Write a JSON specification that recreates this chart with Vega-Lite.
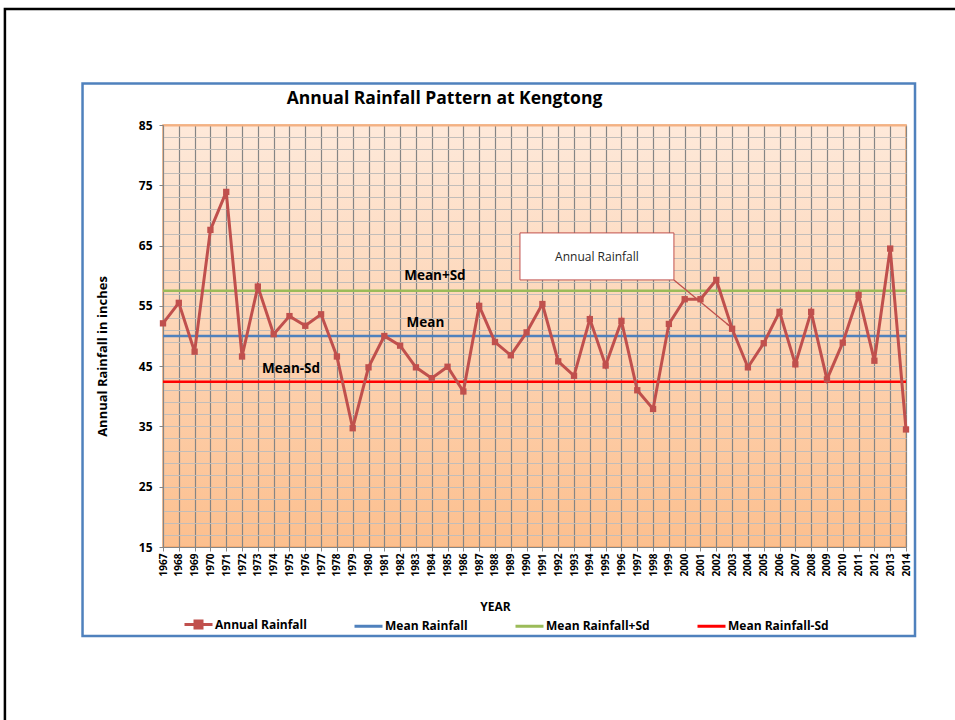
{
  "$schema": "https://vega.github.io/schema/vega-lite/v6.json",
  "width": 743,
  "height": 422,
  "autosize": {"type": "none"},
  "padding": {"left": 163, "top": 125, "right": 49, "bottom": 173},
  "background": "white",
  "title": {
    "text": "Annual Rainfall Pattern at Kengtong",
    "font": "Open Sans",
    "fontSize": 17.5,
    "fontWeight": "bold",
    "color": "black",
    "anchor": "middle",
    "frame": "group",
    "dx": -90,
    "baseline": "bottom",
    "offset": -118
  },
  "data": {"values": [{"note": "decoration"}]},
  "datasets": {
    "rain": [
      {"year": 1967, "rain": 52.1}, {"year": 1968, "rain": 55.5}, {"year": 1969, "rain": 47.4},
      {"year": 1970, "rain": 67.6}, {"year": 1971, "rain": 73.9}, {"year": 1972, "rain": 46.6},
      {"year": 1973, "rain": 58.2}, {"year": 1974, "rain": 50.3}, {"year": 1975, "rain": 53.3},
      {"year": 1976, "rain": 51.7}, {"year": 1977, "rain": 53.6}, {"year": 1978, "rain": 46.6},
      {"year": 1979, "rain": 34.7}, {"year": 1980, "rain": 44.8}, {"year": 1981, "rain": 50.0},
      {"year": 1982, "rain": 48.4}, {"year": 1983, "rain": 44.8}, {"year": 1984, "rain": 43.0},
      {"year": 1985, "rain": 44.9}, {"year": 1986, "rain": 40.8}, {"year": 1987, "rain": 55.0},
      {"year": 1988, "rain": 49.0}, {"year": 1989, "rain": 46.8}, {"year": 1990, "rain": 50.6},
      {"year": 1991, "rain": 55.3}, {"year": 1992, "rain": 45.8}, {"year": 1993, "rain": 43.4},
      {"year": 1994, "rain": 52.8}, {"year": 1995, "rain": 45.1}, {"year": 1996, "rain": 52.5},
      {"year": 1997, "rain": 41.0}, {"year": 1998, "rain": 37.9}, {"year": 1999, "rain": 52.0},
      {"year": 2000, "rain": 56.1}, {"year": 2001, "rain": 56.1}, {"year": 2002, "rain": 59.3},
      {"year": 2003, "rain": 51.2}, {"year": 2004, "rain": 44.8}, {"year": 2005, "rain": 48.8},
      {"year": 2006, "rain": 54.0}, {"year": 2007, "rain": 45.3}, {"year": 2008, "rain": 54.0},
      {"year": 2009, "rain": 42.8}, {"year": 2010, "rain": 48.9}, {"year": 2011, "rain": 56.8},
      {"year": 2012, "rain": 45.9}, {"year": 2013, "rain": 64.5}, {"year": 2014, "rain": 34.5}
    ],
    "stats": [
      {"series": "Mean Rainfall", "value": 50.0},
      {"series": "Mean Rainfall+Sd", "value": 57.5},
      {"series": "Mean Rainfall-Sd", "value": 42.4}
    ]
  },
  "layer": [
    {
      "mark": {"type": "rect", "clip": false, "fill": null, "filled": false, "stroke": "#000000", "strokeWidth": 2.5},
      "encoding": {
        "x": {"datum": 1957.0, "type": "quantitative"},
        "x2": {"datum": 2030},
        "y": {"datum": 104.24, "type": "quantitative"},
        "y2": {"datum": -40}
      }
    },
    {
      "mark": {"type": "rect", "clip": false, "fill": null, "filled": false, "stroke": "#4f81bd", "strokeWidth": 2.5},
      "encoding": {
        "x": {"datum": 1961.91, "type": "quantitative"},
        "x2": {"datum": 2014.57},
        "y": {"datum": 91.88, "type": "quantitative"},
        "y2": {"datum": 0.24}
      }
    },
    {
      "data": {"name": "stats"},
      "mark": {"type": "rule", "strokeWidth": 2.5},
      "encoding": {
        "y": {"field": "value", "type": "quantitative", "title": "Annual Rainfall in inches"},
        "color": {"field": "series", "type": "nominal", "title": null}
      }
    },
    {
      "data": {"name": "rain"},
      "mark": {"type": "line", "strokeWidth": 3, "point": {"shape": "square", "filled": true, "size": 40}},
      "encoding": {
        "x": {
          "field": "year",
          "type": "quantitative",
          "scale": {"domain": [1967, 2014], "nice": false, "zero": false},
          "axis": {
            "values": [1967,1968,1969,1970,1971,1972,1973,1974,1975,1976,1977,1978,1979,1980,1981,1982,1983,1984,1985,1986,1987,1988,1989,1990,1991,1992,1993,1994,1995,1996,1997,1998,1999,2000,2001,2002,2003,2004,2005,2006,2007,2008,2009,2010,2011,2012,2013,2014],
            "tickCount": 200,
            "format": "d",
            "labelAngle": -90,
            "labelAlign": "right",
            "labelBaseline": "middle",
            "labelFontSize": 10,
            "labelPadding": 2,
            "labelOverlap": false,
            "labelFlush": false,
            "tickSize": 4,
            "grid": true,
            "gridColor": "#858585",
            "gridWidth": 1.2,
            "title": "YEAR",
            "titleFontSize": 12,
            "titleX": 332,
            "titleY": 59,
            "titleAlign": "center",
            "titleBaseline": "middle"
          }
        },
        "y": {
          "field": "rain",
          "type": "quantitative",
          "title": "Annual Rainfall in inches",
          "scale": {"domain": [15, 85], "nice": false, "zero": false},
          "axis": {
            "values": [15,17,19,21,23,25,27,29,31,33,35,37,39,41,43,45,47,49,51,53,55,57,59,61,63,65,67,69,71,73,75,77,79,81,83,85],
            "tickCount": 200,
            "format": "d",
            "labelExpr": "(datum.value - 15) % 10 === 0 ? datum.label : ''",
            "labelOverlap": false,
            "labelFontSize": 12,
            "labelPadding": 7,
            "tickSize": 4,
            "tickColor": {"condition": {"test": "(datum.value - 15) % 10 === 0", "value": "#868686"}, "value": "transparent"},
            "grid": true,
            "gridColor": {"condition": {"test": "datum.value === 85", "value": "#f4b183"}, "value": "#c2bdb9"},
            "gridWidth": {"condition": {"test": "datum.value === 85", "value": 2}, "value": 1.2},
            "title": "Annual Rainfall in inches",
            "titleFontSize": 13,
            "titleAngle": -90,
            "titleX": -54,
            "titleY": 231,
            "titleAlign": "center",
            "titleBaseline": "bottom"
          }
        },
        "color": {
          "datum": "Annual Rainfall",
          "type": "nominal",
          "title": null,
          "scale": {
            "domain": ["Annual Rainfall", "Mean Rainfall", "Mean Rainfall+Sd", "Mean Rainfall-Sd"],
            "range": ["#c0504d", "#4f81bd", "#9bbb59", "#ff0000"]
          },
          "legend": {
            "title": null,
            "orient": "none",
            "legendX": 20,
            "legendY": 484,
            "direction": "horizontal",
            "columns": 4,
            "columnPadding": 41,
            "padding": 0,
            "symbolType": "stroke",
            "symbolSize": 784,
            "symbolStrokeWidth": 3,
            "labelFont": "Open Sans",
            "labelFontSize": 12,
            "labelFontWeight": "bold",
            "labelColor": "black",
            "labelOffset": 1,
            "labelLimit": 300,
            "encode": {
              "symbols": {
                "update": {
                  "shape": {"signal": "datum.value === 'Annual Rainfall' ? 'M-1,0H1M-0.25,-0.25H0.25V0.25H-0.25Z' : 'stroke'"},
                  "fill": {"signal": "datum.value === 'Annual Rainfall' ? '#c0504d' : 'transparent'"}
                }
              }
            }
          }
        }
      }
    },
    {
      "mark": {"type": "text", "font": "Open Sans", "fontSize": 13.5, "fontWeight": "bold", "color": "black", "align": "center", "baseline": "middle"},
      "encoding": {
        "x": {"datum": 1984.2, "type": "quantitative"},
        "y": {"datum": 60.0, "type": "quantitative"},
        "text": {"value": "Mean+Sd"}
      }
    },
    {
      "mark": {"type": "text", "font": "Open Sans", "fontSize": 13.5, "fontWeight": "bold", "color": "black", "align": "center", "baseline": "middle"},
      "encoding": {
        "x": {"datum": 1983.6, "type": "quantitative"},
        "y": {"datum": 52.2, "type": "quantitative"},
        "text": {"value": "Mean"}
      }
    },
    {
      "mark": {"type": "text", "font": "Open Sans", "fontSize": 13.5, "fontWeight": "bold", "color": "black", "align": "center", "baseline": "middle"},
      "encoding": {
        "x": {"datum": 1975.1, "type": "quantitative"},
        "y": {"datum": 44.5, "type": "quantitative"},
        "text": {"value": "Mean-Sd"}
      }
    },
    {
      "mark": {"type": "rect", "fill": "white", "stroke": "#c0504d", "strokeWidth": 1},
      "encoding": {
        "x": {"datum": 1989.58, "type": "quantitative"},
        "x2": {"datum": 1999.32},
        "y": {"datum": 67.1, "type": "quantitative"},
        "y2": {"datum": 59.3}
      }
    },
    {
      "mark": {"type": "text", "font": "Open Sans", "fontSize": 12, "color": "#262626", "align": "center", "baseline": "middle"},
      "encoding": {
        "x": {"datum": 1994.45, "type": "quantitative"},
        "y": {"datum": 63.1, "type": "quantitative"},
        "text": {"value": "Annual Rainfall"}
      }
    },
    {
      "mark": {"type": "rule", "stroke": "#c0504d", "strokeWidth": 1.3},
      "encoding": {
        "x": {"datum": 1999.32, "type": "quantitative"},
        "x2": {"datum": 2002.92},
        "y": {"datum": 59.3, "type": "quantitative"},
        "y2": {"datum": 51.5}
      }
    },
    {
      "mark": {"type": "point", "shape": "wedge", "filled": true, "color": "#c0504d", "size": 50, "angle": 130, "opacity": 1},
      "encoding": {
        "x": {"datum": 2002.77, "type": "quantitative"},
        "y": {"datum": 51.8, "type": "quantitative"}
      }
    }
  ],
  "config": {
    "font": "Open Sans",
    "view": {
      "fill": {"gradient": "linear", "x1": 0, "y1": 0, "x2": 0, "y2": 1, "stops": [{"offset": 0, "color": "#fee9da"}, {"offset": 1, "color": "#fcbf8e"}]},
      "stroke": "#f0a870",
      "strokeWidth": 1.5
    },
    "axis": {
      "labelFont": "Open Sans",
      "labelFontWeight": "bold",
      "labelColor": "black",
      "titleFont": "Open Sans",
      "titleFontWeight": "bold",
      "titleColor": "black",
      "domainColor": "#868686",
      "tickColor": "#868686"
    }
  }
}
